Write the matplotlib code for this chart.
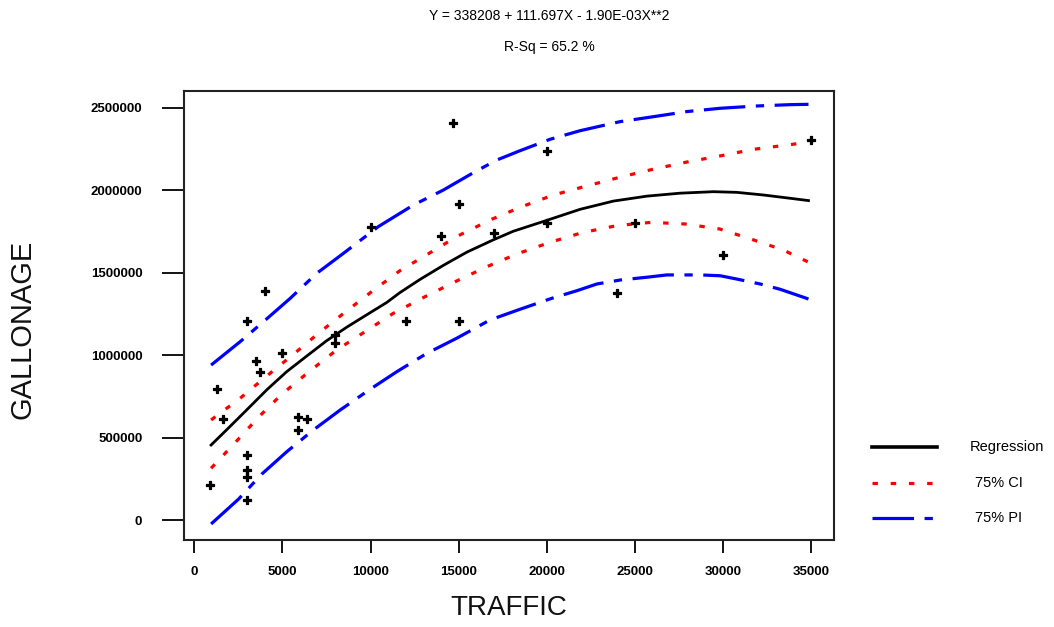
import matplotlib
matplotlib.use("Agg")
import matplotlib.pyplot as plt
from matplotlib.lines import Line2D

plt.rcParams['font.family'] = ['Liberation Sans', 'DejaVu Sans']

# observed points (traffic, gallonage)
traffic = [14700, 15000, 10000, 14000, 17000, 4000, 3000, 12000, 15000, 1300,
           3500, 3700, 5000, 1600, 5900, 6400, 5900, 8000, 8000, 3000,
           3000, 3000, 900, 3000, 20000, 20000, 25000, 30000, 24000, 35000]
gallons = [2410000, 1918000, 1776000, 1725000, 1740000, 1390000, 1208000, 1208000, 1208000, 793000,
           963000, 898000, 1015000, 613000, 627000, 613000, 546000, 1122000, 1072000, 394000,
           303000, 263000, 212000, 121000, 2241000, 1804000, 1804000, 1608000, 1376000, 2306000]

# fitted line
reg_x = [950, 1840, 2970, 4110, 5240, 6380, 7510, 8650, 9780, 10920, 11670, 12810,
         14130, 15460, 16970, 18100, 20000, 21890, 23780, 25680, 27570, 29460,
         30780, 32290, 33810, 34850]
reg_y = [455000, 548000, 668000, 790000, 900000, 995000, 1088000, 1170000, 1245000, 1320000,
         1380000, 1460000, 1545000, 1625000, 1700000, 1752000, 1818000, 1885000, 1935000,
         1965000, 1983000, 1992000, 1988000, 1972000, 1952000, 1938000]

# 75% confidence band
ci_up_x = [950, 2590, 4110, 5620, 7090, 8590, 10130, 11670, 13380, 14980, 16880,
           18580, 20380, 22270, 24160, 26020, 27950, 29840, 31730, 33620, 34850]
ci_up_y = [607000, 738000, 874000, 1005000, 1137000, 1264000, 1391000, 1513000, 1622000,
           1725000, 1825000, 1901000, 1972000, 2027000, 2080000, 2128000, 2172000, 2209000,
           2249000, 2275000, 2292000]
ci_lo_x = [950, 2310, 3670, 4960, 6530, 8080, 9690, 11290, 13090, 14800, 16600,
           18300, 20190, 21990, 23970, 25920, 27850, 29800, 31630, 33430, 34380, 34850]
ci_lo_y = [314000, 469000, 627000, 763000, 902000, 1032000, 1143000, 1254000, 1355000,
           1446000, 1537000, 1614000, 1685000, 1743000, 1786000, 1806000, 1796000, 1766000,
           1703000, 1638000, 1588000, 1565000]

# 75% prediction band
pi_up_x = [950, 2600, 3920, 5430, 6950, 8460, 10440, 12430, 14130, 15830, 17160,
           18490, 20190, 21890, 24160, 26050, 27950, 29840, 31920, 33810, 34850]
pi_up_y = [940000, 1082000, 1203000, 1344000, 1497000, 1618000, 1780000, 1911000, 2002000,
           2107000, 2184000, 2241000, 2310000, 2362000, 2417000, 2447000, 2478000, 2498000,
           2512000, 2520000, 2522000]
pi_lo_x = [950, 2500, 3830, 5240, 6750, 8270, 9970, 11490, 13190, 14890, 16780,
           18490, 20280, 21700, 22840, 24160, 25680, 26810, 28710, 29840, 30780,
           32110, 33240, 34470, 34850]
pi_lo_y = [-24000, 126000, 279000, 414000, 546000, 667000, 793000, 900000, 1011000, 1103000,
           1214000, 1279000, 1345000, 1391000, 1432000, 1456000, 1473000, 1487000, 1487000,
           1482000, 1462000, 1432000, 1400000, 1355000, 1341000]

x_ticks = [0, 5000, 10000, 15000, 20000, 25000, 30000, 35000]
y_ticks = [0, 500000, 1000000, 1500000, 2000000, 2500000]

fig = plt.figure(figsize=(10.54, 6.27), dpi=100)
ax = fig.add_axes([0.1746, 0.1388, 0.6167, 0.7161])

red_dash = (1.7, 4.0)
blue_dash = (13, 3.3, 2.6, 3.3)

ax.plot(pi_up_x, pi_up_y, color='#0000ff', lw=2.3, dashes=blue_dash)
ax.plot(pi_lo_x, pi_lo_y, color='#0000ff', lw=2.3, dashes=blue_dash)
ax.plot(ci_up_x, ci_up_y, color='#ff0000', lw=2.3, dashes=red_dash)
ax.plot(ci_lo_x, ci_lo_y, color='#ff0000', lw=2.3, dashes=red_dash)
ax.plot(reg_x, reg_y, color='black', lw=2.0)
ax.scatter(traffic, gallons, marker='P', s=34, color='black', edgecolors='black',
           linewidths=0.9, zorder=5)

ax.set_xlim(-585, 36300)
ax.set_ylim(-121000, 2603000)
ax.set_xticks(x_ticks)
ax.set_xticklabels([str(v) for v in x_ticks], fontweight='bold')
ax.set_yticks(y_ticks)
ax.set_yticklabels([str(v) for v in y_ticks], fontweight='bold')
ax.tick_params(axis='x', length=9, width=1.3, pad=10, labelsize=9.5)
ax.tick_params(axis='y', length=16, width=1.3, pad=14, labelsize=9.5)
for sp in ax.spines.values():
    sp.set_linewidth(1.5)
    sp.set_color('#222222')

ax.set_xlabel('TRAFFIC', fontsize=20, labelpad=12, color='#111111')
fig.text(22.5 / 1054, 1 - 329 / 627, 'GALLONAGE', rotation=90, fontsize=21,
         ha='center', va='center', color='#111111')

fig.text(549 / 1054, 1 - 16 / 627, 'Y = 338208 + 111.697X - 1.90E-03X**2',
         fontsize=10, ha='center', va='center')
fig.text(549 / 1054, 1 - 47 / 627, 'R-Sq = 65.2 %', fontsize=10,
         ha='center', va='center')

# legend drawn by hand to the right of the axes
leg = [('Regression', 'black', None, 447),
       ('75% CI', '#ff0000', red_dash, 483),
       ('75% PI', '#0000ff', blue_dash, 518)]
for label, col, dsh, ypx in leg:
    yf = 1 - ypx / 627
    kw = dict(color=col, lw=2.3 if dsh else 2.6)
    if dsh:
        kw['dashes'] = dsh
    fig.add_artist(Line2D([872 / 1054, 937 / 1054], [yf, yf], **kw))
    if label == 'Regression':
        fig.text(970 / 1054, yf, label, fontsize=10.5, ha='left', va='center')
    else:
        fig.text(999 / 1054, yf, label, fontsize=10.5, ha='center', va='center')

fig.savefig('out.png', dpi=100)
